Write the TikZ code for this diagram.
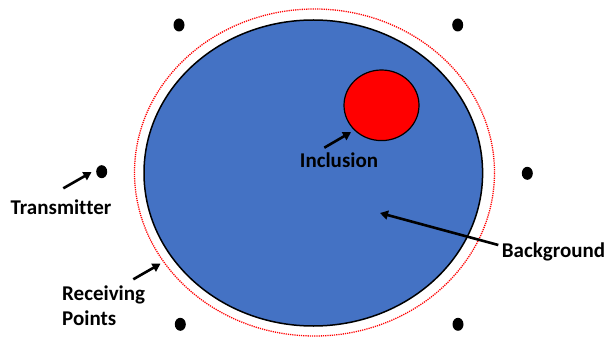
\documentclass[tikz,border=0pt]{standalone}
\usepackage{fontspec}
\setmainfont{Carlito}[Ligatures=NoCommon]
\usetikzlibrary{shapes.geometric,arrows.meta}
\definecolor{bgblue}{HTML}{4472C4}
\definecolor{inred}{HTML}{FF0000}
\tikzset{
  lbl/.style={font=\fontsize{21}{24.5}\selectfont\bfseries, inner sep=0pt, align=left},
  ptr/.style={line width=2.6pt, -{Triangle[length=8pt,width=9pt]}},
  dot/.style={ellipse, fill=black, minimum width=11pt, minimum height=13pt, inner sep=0pt},
}
\begin{document}
\begin{tikzpicture}[x=1pt,y=-1pt]
\useasboundingbox (0,0) rectangle (607,339);
\node[ellipse, draw=inred, line width=1.3pt, dash pattern=on 1.2pt off 1pt, minimum width=360pt, minimum height=327pt, inner sep=0pt] (ring) at (314.5,172.5) {};
\node[ellipse, draw=black, line width=1.5pt, fill=bgblue, minimum width=338.6pt, minimum height=306pt, inner sep=0pt] (bg) at (313.3,173) {};
\node[ellipse, draw=black, line width=1.2pt, fill=inred, minimum width=75pt, minimum height=70.6pt, inner sep=0pt] (incl) at (381.5,105.3) {};
\node[dot] (d1) at (179,25) {};
\node[dot] (d2) at (457.7,25) {};
\node[dot] (d3) at (101.7,171.7) {};
\node[dot] (d4) at (527.3,173.3) {};
\node[dot] (d5) at (180.3,324.3) {};
\node[dot] (d6) at (458,324.3) {};
\node[lbl, anchor=center] (ltx) at (61,207) {Transmitter};
\node[lbl, anchor=north west] (lrx) at (62,286) {Receiving\\Points};
\node[lbl] (lin) at (339,160) {Inclusion};
\node[lbl] (lbg) at (553.5,251.7) {Background};
\coordinate (ttx) at (63.3,188.3);
\coordinate (htx) at (91.5,172.2);
\coordinate (trx) at (133.3,279.3);
\coordinate (hrx) at (160.5,263.7);
\coordinate (tin) at (324.3,147.7);
\coordinate (hin) at (351,132.2);
\coordinate (tbg) at (498.3,245);
\coordinate (hbg) at (380,213);
\draw[ptr] (ttx) -- (htx);
\draw[ptr] (trx) -- (hrx);
\draw[ptr] (tin) -- (hin);
\draw[ptr] (tbg) -- (hbg);
\end{tikzpicture}
\end{document}
